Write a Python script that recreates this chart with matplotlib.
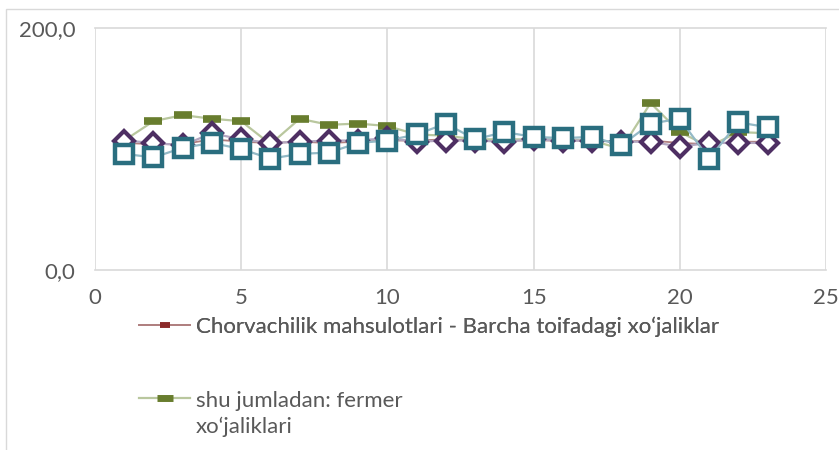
import matplotlib
matplotlib.use("Agg")
import matplotlib.pyplot as plt
import numpy as np
from matplotlib.lines import Line2D
from matplotlib.patches import Rectangle
from matplotlib.legend_handler import HandlerLine2D

x = list(range(1, 24))
barcha = [105, 104, 104, 108, 106, 105, 106, 105, 106, 107, 107, 108, 107, 107, 107, 107, 107, 106, 107, 105, 104, 106, 106]
fermer = [107, 123, 128, 125, 123, 104, 125, 120, 121, 119, 112, 111, 108, 108, 108, 108, 107, 100, 138, 114, 102, 114, 113]
dehqon = [107, 105, 103, 113, 108, 105, 106, 107, 107, 109, 106, 107, 107, 106, 108, 107, 107, 106, 106, 102, 105, 105, 105]
tashkilot = [96, 93, 101, 105, 100, 92, 96, 97, 105, 107, 112, 121, 108, 114, 110, 109, 110, 103, 121, 125, 92, 122, 118]

labels = ["Chorvachilik mahsulotlari - Barcha toifadagi xo\u2018jaliklar",
          "shu jumladan: fermer\nxo\u2018jaliklari"]
xticks = [0, 5, 10, 15, 20, 25]
yticks = [0, 200]
ytick_labels = ["0,0", "200,0"]

FONT = "Lato"
FS = 16
TXT = "#595959"


class ShiftedHandler(HandlerLine2D):
    def __init__(self, shift, **kw):
        super().__init__(**kw)
        self.shift = shift

    def create_artists(self, legend, orig_handle, xdescent, ydescent, width,
                       height, fontsize, trans):
        arts = super().create_artists(legend, orig_handle, xdescent, ydescent,
                                      width, height, fontsize, trans)
        for a in arts:
            a.set_ydata(np.asarray(a.get_ydata()) + self.shift)
        return arts


fig = plt.figure(figsize=(8.39, 4.5), dpi=100)
fig.patch.set_facecolor("white")
fig.add_artist(Rectangle((6/839, -0.1), 2, 1 - 9/450 + 0.1, transform=fig.transFigure,
                         fill=False, edgecolor="#d9d9d9", lw=1.0))

ax = fig.add_axes([95/839, 1 - 270/450, (826 - 95)/839, (270 - 28)/450])
ax.set_xlim(0, 25)
ax.set_ylim(0, 200)

ax.plot(x, barcha, color="#b07f7f", lw=1.3, marker="_", ms=7, mew=4,
        mec="#8c2a2a", label=labels[0], zorder=3)
ax.plot(x, fermer, color="#b9c79e", lw=1.6, marker="_", ms=13, mew=5.5,
        mec="#687d2e", label=labels[1], zorder=4)
ax.plot(x, dehqon, color="#b3a6c0", lw=1.6, marker="D", ms=10, mew=3,
        mfc="white", mec="#4e2f63", zorder=5)
ax.plot(x, tashkilot, color="#93b9c6", lw=1.6, marker="s", ms=12.5, mew=3.2,
        mfc="white", mec="#2a6e7f", zorder=6)

ax.set_xticks(xticks)
ax.set_yticks(yticks)
ax.set_yticklabels(ytick_labels)
ax.tick_params(length=0, labelsize=FS, labelcolor=TXT)
ax.tick_params(axis="y", pad=14)
ax.tick_params(axis="x", pad=13)
for lbl in ax.get_xticklabels() + ax.get_yticklabels():
    lbl.set_fontfamily(FONT)
ax.grid(axis="x", color="#d9d9d9", lw=1.2)
for s in ["left", "right"]:
    ax.spines[s].set_visible(False)
for s in ["top", "bottom"]:
    ax.spines[s].set_color("#d9d9d9")
    ax.spines[s].set_linewidth(1.2)
ax.set_axisbelow(True)

h1 = Line2D([0], [0], color="#b07f7f", lw=1.3, marker="_", ms=7, mew=4, mec="#8c2a2a")
h2 = Line2D([0], [0], color="#b9c79e", lw=1.6, marker="_", ms=11, mew=5, mec="#687d2e")
leg1 = fig.legend([h1], [labels[0]], loc="center left", bbox_to_anchor=(128/839, 1 - 327/450),
                  frameon=False, prop={"family": FONT, "size": FS}, labelcolor=TXT,
                  handlelength=2.3, handletextpad=0.25, borderpad=0)
leg2 = fig.legend([h2], [labels[1]], loc="center left", bbox_to_anchor=(128/839, 1 - 414/450),
                  frameon=False, prop={"family": FONT, "size": FS}, labelcolor=TXT,
                  handlelength=2.3, handletextpad=0.25, borderpad=0,
                  handler_map={h2: ShiftedHandler(11.5)})
for t in leg2.get_texts():
    t.set_linespacing(1.4)
fig.add_artist(leg1)

fig.savefig("out.png", dpi=100)
